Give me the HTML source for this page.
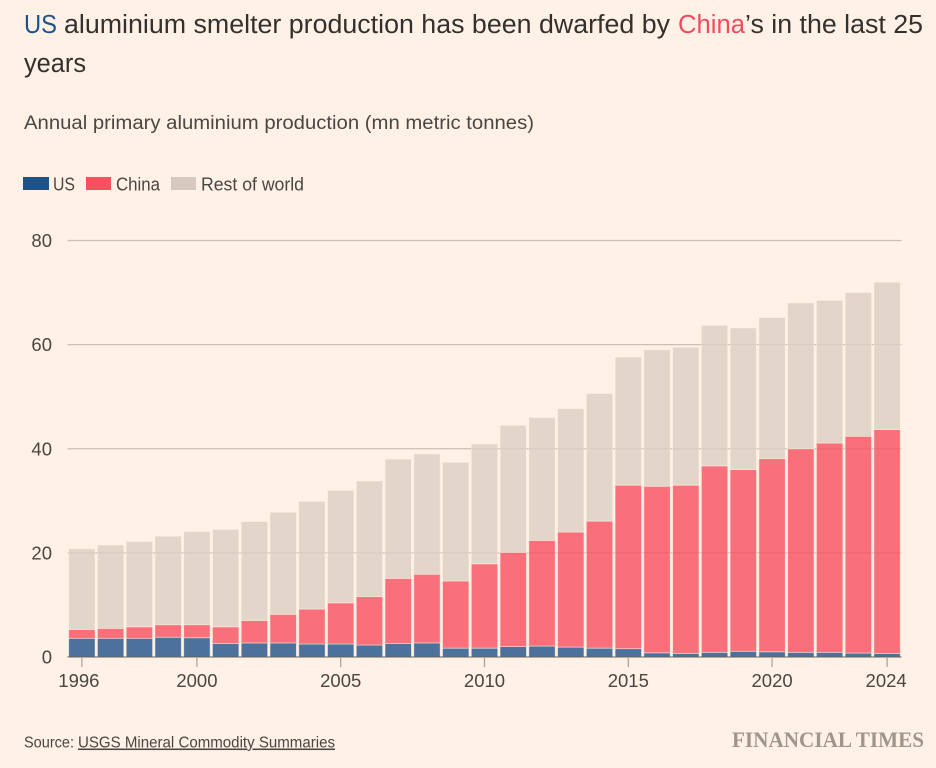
<!DOCTYPE html>
<html lang="en">
<head>
<meta charset="utf-8">
<title>US aluminium smelter production</title>
<style>
html,body{margin:0;padding:0;background:#FFF1E5;width:936px;height:768px;overflow:hidden}
svg{display:block}
text{font-family:"Liberation Sans",sans-serif}
</style>
</head>
<body>
<svg id="chart" xmlns="http://www.w3.org/2000/svg" width="936" height="768" viewBox="0 0 936 768">
  <rect width="936" height="768" fill="#FFF1E5"/>
  <g font-size="25.5" fill="#33302E">
    <text x="24" y="33" fill="#1F5289" textLength="33" lengthAdjust="spacingAndGlyphs">US</text>
    <text x="64" y="33" textLength="606" lengthAdjust="spacingAndGlyphs">aluminium smelter production has been dwarfed by</text>
    <text x="678" y="33" fill="#F24B5F" textLength="67" lengthAdjust="spacingAndGlyphs">China</text>
    <text x="745" y="33" textLength="178" lengthAdjust="spacingAndGlyphs">’s in the last 25</text>
    <text x="24" y="72" textLength="62" lengthAdjust="spacingAndGlyphs">years</text>
  </g>
  <text x="24" y="129" font-size="19" fill="#4A4643" textLength="510" lengthAdjust="spacingAndGlyphs">Annual primary aluminium production (mn metric tonnes)</text>
  <g font-size="18" fill="#4A4643">
    <g>
      <rect x="23" y="177" width="26" height="13" fill="#1F5289"/>
      <text x="53" y="190.5" textLength="22" lengthAdjust="spacingAndGlyphs">US</text>
    </g>
    <g>
      <rect x="86" y="177" width="25" height="13" fill="#F9505F"/>
      <text x="116" y="190.5" textLength="44" lengthAdjust="spacingAndGlyphs">China</text>
    </g>
    <g>
      <rect x="171" y="177" width="25" height="13" fill="#D6CABF"/>
      <text x="201" y="190.5" textLength="103" lengthAdjust="spacingAndGlyphs">Rest of world</text>
    </g>
  </g>
  <g id="grid"></g>
  <g id="bars"></g>
  <g id="axes"></g>
  <text x="24" y="747.5" font-size="15.5" fill="#4A4643" textLength="50" lengthAdjust="spacingAndGlyphs">Source:</text>
  <text x="78" y="747.5" font-size="15.5" fill="#4A4643" text-decoration="underline" textLength="257" lengthAdjust="spacingAndGlyphs">USGS Mineral Commodity Summaries</text>
  <text x="732" y="747" font-size="22" font-weight="bold" fill="#9E958C" style="font-family:'Liberation Serif',serif" textLength="192" lengthAdjust="spacingAndGlyphs">FINANCIAL TIMES</text>
</svg>
<script>
var years = [1996,1997,1998,1999,2000,2001,2002,2003,2004,2005,2006,2007,2008,2009,2010,2011,2012,2013,2014,2015,2016,2017,2018,2019,2020,2021,2022,2023,2024];
var usValues = [3.6,3.6,3.6,3.8,3.7,2.6,2.7,2.7,2.5,2.5,2.3,2.6,2.7,1.7,1.7,2.0,2.1,1.9,1.7,1.6,0.8,0.7,0.9,1.1,1.0,0.9,0.9,0.75,0.68];
var chinaValues = [1.7,1.9,2.2,2.4,2.5,3.2,4.3,5.5,6.7,7.9,9.3,12.5,13.2,12.9,16.2,18.1,20.3,22.1,24.4,31.4,32.0,32.3,35.8,34.9,37.1,39.1,40.2,41.65,43.0];
var restValues = [15.5,16.0,16.4,17.0,17.9,18.7,19.0,19.6,20.7,21.6,22.2,22.9,23.1,22.8,23.0,24.4,23.6,23.7,24.5,24.6,26.2,26.5,27.0,27.2,27.1,28.0,27.4,27.6,28.3];
var yTicks = [0,20,40,60,80];
var xTickYears = [1996,2000,2005,2010,2015,2020,2024];

var NS = 'http://www.w3.org/2000/svg';
var plotLeft = 67.5, plotRight = 901.5, plotBottom = 657, plotTop = 240.5, yMax = 80;
var bandWidth = (plotRight - plotLeft) / years.length;

function xBand(year) { return plotLeft + (year - years[0]) * bandWidth; }
function xCenter(year) { return xBand(year) + bandWidth / 2; }
function yScale(v) { return plotBottom - (v / yMax) * (plotBottom - plotTop); }
function make(tag, attrs) {
  var el = document.createElementNS(NS, tag);
  for (var k in attrs) el.setAttribute(k, attrs[k]);
  return el;
}

var grid = document.getElementById('grid');
var bars = document.getElementById('bars');
var axes = document.getElementById('axes');

yTicks.forEach(function (t) {
  if (t !== 0) {
    var line = make('line', {x1: plotLeft, x2: plotRight, y1: yScale(t), y2: yScale(t), stroke: '#CBBFB3', 'stroke-width': 1.2});
    
    
    grid.appendChild(line);
  }
  var label = make('text', {x: 52, y: yScale(t) + 6.5, 'text-anchor': 'end', 'font-size': 18.5, fill: '#4A4643'});
  
  
  label.textContent = String(t);
  axes.appendChild(label);
});

var seriesList = [
  {key: 'us', values: usValues, fill: '#1F5289'},
  {key: 'china', values: chinaValues, fill: '#F9505F'},
  {key: 'rest-of-world', values: restValues, fill: '#DBCFC3'}
];

years.forEach(function (year, i) {
  var base = 0;
  seriesList.forEach(function (s) {
    var top = base + s.values[i];
    var rect = make('rect', {
      x: xBand(year) + 1.2,
      y: yScale(top),
      width: bandWidth - 2.4,
      height: yScale(base) - yScale(top),
      fill: s.fill,
      'fill-opacity': 0.8,
      stroke: '#FFF1E5',
      'stroke-opacity': 0.6,
      'stroke-width': 0.8
    });
    
    
    bars.appendChild(rect);
    base = top;
  });
});

var baseline = make('line', {x1: plotLeft, x2: plotRight, y1: plotBottom, y2: plotBottom, stroke: '#66605C', 'stroke-width': 1});


axes.appendChild(baseline);

xTickYears.forEach(function (year) {
  var tick = make('line', {x1: xCenter(year), x2: xCenter(year), y1: plotBottom, y2: plotBottom + 10, stroke: '#A8A098', 'stroke-width': 1.2});
  
  
  axes.appendChild(tick);
  var nudge = year === years[0] ? -3 : (year === years[years.length - 1] ? -1 : 0);
  var label = make('text', {x: xCenter(year) + nudge, y: 687, 'text-anchor': 'middle', 'font-size': 18.5, fill: '#4A4643'});
  
  
  label.textContent = String(year);
  axes.appendChild(label);
});
</script>
</body>
</html>
